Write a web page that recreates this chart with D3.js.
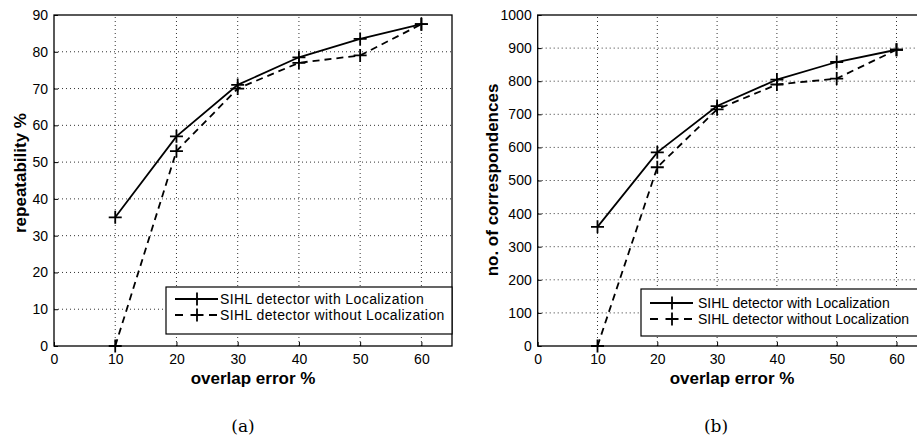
<!DOCTYPE html>
<html>
<head>
<meta charset="utf-8">
<script src="https://cdn.jsdelivr.net/npm/d3@7"></script>
<style>
  body { margin: 0; background: #fff; }
  svg { display: block; }
</style>
</head>
<body>
<svg id="chart" width="917" height="442"></svg>
<script>
// data
const overlapErr = [10, 20, 30, 40, 50, 60];
const repWithLoc = [35, 57, 71, 78.5, 83.5, 87.5];
const repWithoutLoc = [0, 53, 70, 77, 79, 87.5];
const corrWithLoc = [360, 585, 725, 805, 858, 895];
const corrWithoutLoc = [0, 540, 715, 790, 808, 895];
const xTicks = [0, 10, 20, 30, 40, 50, 60];
const repTicks = [0, 10, 20, 30, 40, 50, 60, 70, 80, 90];
const corrTicks = [0, 100, 200, 300, 400, 500, 600, 700, 800, 900, 1000];
const seriesNames = ['SIHL detector with Localization', 'SIHL detector without Localization'];

const SANS = '"Liberation Sans", Arial, sans-serif';
const svg = d3.select('#chart');

function drawPanel(opt) {
  const x = d3.scaleLinear().domain([0, 65]).range([opt.left, opt.right]);
  const y = d3.scaleLinear().domain(opt.yDomain).range([346, 15]);
  const g = svg.append('g');

  // dotted grid
  g.selectAll('.gx').data(xTicks.filter(d => d > 0))
    .enter().append('line')
      .attr('x1', d => x(d)).attr('x2', d => x(d))
      .attr('y1', y.range()[0]).attr('y2', y.range()[1])
      .attr('stroke', '#333').attr('stroke-width', 1).attr('stroke-dasharray', '1,3');
  g.selectAll('.gy').data(opt.yTicks.filter((d, i) => i > 0 && i < opt.yTicks.length - 1))
    .enter().append('line')
      .attr('x1', opt.left).attr('x2', opt.right)
      .attr('y1', d => y(d)).attr('y2', d => y(d))
      .attr('stroke', '#333').attr('stroke-width', 1).attr('stroke-dasharray', '1,3');

  // axes (matlab style, inward ticks)
  g.append('g').attr('transform', `translate(0,${y(0)})`)
    .call(d3.axisBottom(x).tickValues(xTicks).tickSize(-4).tickPadding(8).tickFormat(d3.format('d')))
    .attr('font-size', 14).attr('font-family', SANS)
    .call(a => a.select('.domain').remove());
  g.append('g').attr('transform', `translate(${opt.left},0)`)
    .call(d3.axisLeft(y).tickValues(opt.yTicks).tickSize(-4).tickPadding(6).tickFormat(d3.format('d')))
    .attr('font-size', 14).attr('font-family', SANS)
    .call(a => a.select('.domain').remove());
  g.selectAll('.tick line').attr('stroke', '#000');
  g.selectAll('.tick text').attr('fill', '#000');

  g.append('rect')
    .attr('x', opt.left).attr('y', y.range()[1])
    .attr('width', opt.right - opt.left).attr('height', y.range()[0] - y.range()[1])
    .attr('fill', 'none').attr('stroke', '#000').attr('stroke-width', 1.3);

  const line = d3.line().x((d, i) => x(overlapErr[i])).y(d => y(d));
  const series = [
    { vals: opt.withLoc, dash: null },
    { vals: opt.withoutLoc, dash: '7,5' }
  ];
  series.forEach(s => {
    g.append('path').datum(s.vals)
      .attr('d', line)
      .attr('fill', 'none').attr('stroke', '#000').attr('stroke-width', 1.8)
      .attr('stroke-dasharray', s.dash);
    g.selectAll(null).data(s.vals).enter().append('path')
      .attr('d', (d, i) => `M${x(overlapErr[i]) - 6.5},${y(d)}h13M${x(overlapErr[i])},${y(d) - 6.5}v13`)
      .attr('stroke', '#000').attr('stroke-width', 1.8);
  });

  // legend
  const lg = opt.legend;
  g.append('rect')
    .attr('x', lg.x).attr('y', lg.y).attr('width', lg.w).attr('height', lg.h)
    .attr('fill', '#fff').attr('stroke', '#000').attr('stroke-width', 1.2);
  seriesNames.forEach((name, i) => {
    const cy = lg.y + lg.row0 + i * 16;
    g.append('line')
      .attr('x1', lg.x + lg.l0).attr('x2', lg.x + lg.l0 + 43).attr('y1', cy).attr('y2', cy)
      .attr('stroke', '#000').attr('stroke-width', 1.8)
      .attr('stroke-dasharray', i === 1 ? '8,9' : null);
    g.append('path')
      .attr('d', `M${lg.x + lg.l0 + 15.5},${cy}h13M${lg.x + lg.l0 + 22},${cy - 6.5}v13`)
      .attr('stroke', '#000').attr('stroke-width', 1.8);
    g.append('text')
      .attr('font-family', SANS).attr('font-size', 14).attr('letter-spacing', lg.ls).attr('fill', '#000')
      .attr('x', lg.x + lg.t0).attr('y', cy + 5).text(name);
  });

  // labels
  g.append('text')
    .attr('font-family', SANS).attr('font-size', 17).attr('font-weight', 'bold')
    .attr('x', opt.xLabelX).attr('y', 384).attr('text-anchor', 'middle')
    .text('overlap error %');
  g.append('text')
    .attr('font-family', SANS).attr('font-size', 17).attr('font-weight', 'bold')
    .attr('transform', `translate(${opt.yLabelX},${opt.yLabelY}) rotate(-90)`)
    .attr('text-anchor', 'middle').text(opt.yLabel);
  g.append('text')
    .attr('font-family', '"DejaVu Serif", "Liberation Serif", serif').attr('font-size', 17)
    .attr('x', opt.capX).attr('y', 432).attr('text-anchor', 'middle')
    .text(opt.caption);
}

drawPanel({
  left: 54, right: 452, yDomain: [0, 90], yTicks: repTicks,
  withLoc: repWithLoc, withoutLoc: repWithoutLoc,
  legend: { x: 166, y: 287, w: 286, h: 47, row0: 12, l0: 9, t0: 54, ls: 0.4 },
  xLabelX: 253, yLabelX: 26, yLabelY: 173, yLabel: 'repeatability %',
  capX: 243, caption: '(a)'
});
drawPanel({
  left: 537.7, right: 926.4, yDomain: [0, 1000], yTicks: corrTicks,
  withLoc: corrWithLoc, withoutLoc: corrWithoutLoc,
  legend: { x: 641, y: 289, w: 290, h: 47, row0: 14, l0: 9, t0: 57, ls: 0 },
  xLabelX: 732, yLabelX: 498, yLabelY: 180, yLabel: 'no. of correspondences',
  capX: 716, caption: '(b)'
});
</script>
</body>
</html>
